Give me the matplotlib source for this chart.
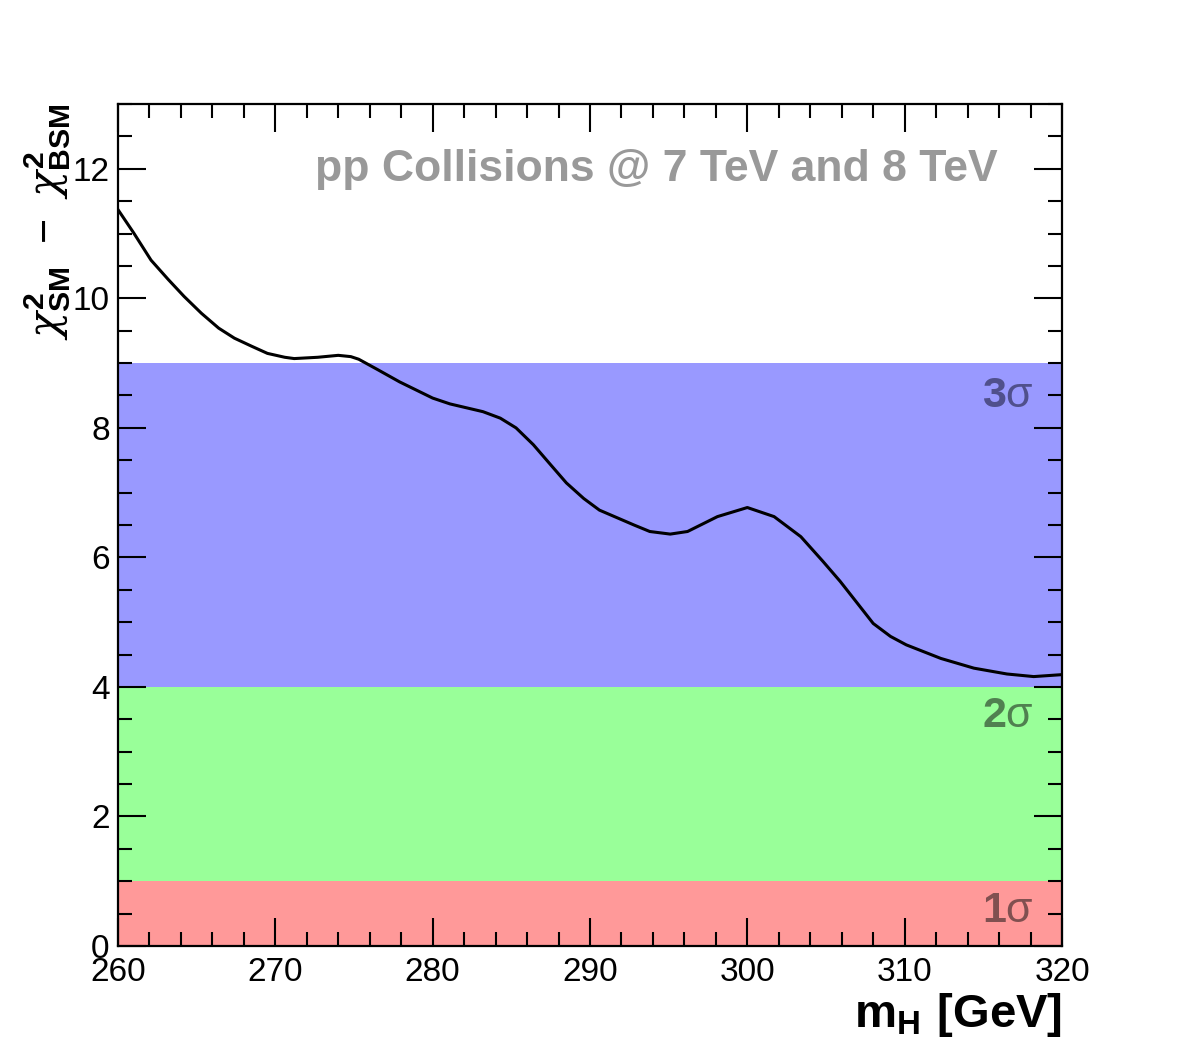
import numpy as np
import matplotlib.pyplot as plt
from matplotlib.ticker import MultipleLocator

plt.rcParams['font.family'] = ['Liberation Sans', 'DejaVu Sans']
plt.rcParams['mathtext.fontset'] = 'custom'
plt.rcParams['mathtext.rm'] = 'Liberation Sans'
plt.rcParams['mathtext.it'] = 'DejaVu Serif:italic'
plt.rcParams['mathtext.bf'] = 'Liberation Sans:bold'

# chi2 difference vs Higgs mass
mass = [260.0, 261.0, 262.1, 263.2, 264.2, 265.3, 266.4, 267.4, 268.5, 269.5,
        270.6, 271.2, 272.7, 274.0, 274.8, 275.3, 276.5, 277.9, 280.0, 281.1,
        283.2, 284.3, 285.3, 286.4, 287.5, 288.5, 289.6, 290.6, 292.8, 293.8,
        295.1, 296.2, 298.1, 300.0, 301.7, 303.4, 304.8, 305.9, 307.0, 308.0,
        309.1, 310.1, 312.3, 314.4, 316.5, 318.2, 320.0]
dchi2 = [11.37, 11.01, 10.59, 10.29, 10.03, 9.77, 9.54, 9.385, 9.26, 9.15,
         9.09, 9.07, 9.09, 9.12, 9.10, 9.06, 8.90, 8.71, 8.46, 8.37,
         8.25, 8.15, 8.00, 7.74, 7.43, 7.15, 6.91, 6.73, 6.50, 6.40,
         6.36, 6.40, 6.63, 6.77, 6.63, 6.32, 5.94, 5.63, 5.29, 4.98,
         4.78, 4.65, 4.44, 4.29, 4.20, 4.16, 4.19]

# sigma bands
band_lo = [0, 1, 4]
band_hi = [1, 4, 9]
band_col = ['#ff9999', '#99ff99', '#9999ff']
band_txt = [r'$\mathbf{1}\mathrm{\sigma}$', r'$\mathbf{2}\mathrm{\sigma}$',
            r'$\mathbf{3}\mathrm{\sigma}$']
txt_col = ['#805050', '#508050', '#50508c']
txt_y = [0.37, 3.38, 8.32]

fig = plt.figure(figsize=(11.82, 10.53), dpi=100)
ax = fig.add_axes([0.0998, 0.1016, 0.7987, 0.7996])

for i in range(len(band_lo)):
    ax.axhspan(band_lo[i], band_hi[i], color=band_col[i], lw=0, zorder=0)
    ax.text(0.97, txt_y[i], band_txt[i], transform=ax.get_yaxis_transform(),
            ha='right', va='baseline', fontsize=31, color=txt_col[i])

ax.plot(mass, dchi2, color='black', lw=2.2, zorder=3, solid_joinstyle='round')

ax.set_xlim(260, 320)
ax.set_ylim(0, 13)
ax.xaxis.set_major_locator(MultipleLocator(10))
ax.xaxis.set_minor_locator(MultipleLocator(2))
ax.yaxis.set_major_locator(MultipleLocator(2))
ax.yaxis.set_minor_locator(MultipleLocator(0.5))
ax.tick_params(which='both', direction='in', top=True, right=True, width=1.5,
               labelsize=24, zorder=5)
ax.tick_params(axis='y', which='major', length=20, pad=6)
ax.tick_params(axis='y', which='minor', length=10)
ax.tick_params(axis='x', which='major', length=20, pad=8)
ax.tick_params(axis='x', which='minor', length=10)
for s in ax.spines.values():
    s.set_linewidth(1.6)
    s.set_zorder(6)

ax.text(0.932, 0.9086, 'pp Collisions @ 7 TeV and 8 TeV', transform=ax.transAxes,
        ha='right', va='baseline', fontsize=32, fontweight='bold', color='#999999')

ax.set_xlabel(r'$\mathbf{m_{H}\ [GeV]}$', loc='right', fontsize=34, labelpad=2)
ax.set_ylabel(r'$\chi^{\mathbf{2}}_{\mathbf{SM}}\ -\ \chi^{\mathbf{2}}_{\mathbf{BSM}}$',
              loc='top', fontsize=31, labelpad=0)

fig.savefig('out.png', dpi=100)
